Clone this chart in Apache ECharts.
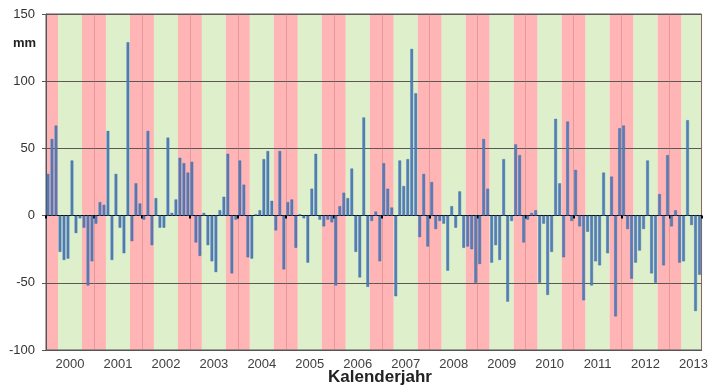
<!DOCTYPE html>
<html><head><meta charset="utf-8">
<script src="https://cdn.jsdelivr.net/npm/echarts@6/dist/echarts.min.js"></script>
<style>html,body{margin:0;padding:0;background:#fff}#c{width:711px;height:386px}</style>
</head><body><div id="c"></div>
<script>
// monthly values (mm), Jan..Dec per year
const y2000 = [31, 57, 67, -27, -33, -32, 41, -13, -2, -9, -52, -34];
const y2001 = [-6, 10, 8, 63, -33, 31, -9, -28, 129, -19, 24, 9];
const y2002 = [-3, 63, -22, 13, -9, -9, 58, 2, 12, 43, 39, 32];
const y2003 = [40, -20, -30, 2, -22, -34, -42, 4, 14, 46, -43, -3];
const y2004 = [41, 23, -31, -32, 1, 4, 42, 48, 11, -11, 48, -40];
const y2005 = [10, 12, -24, 1, -2, -35, 20, 46, -3, -8, -3, -5];
const y2006 = [-52, 7, 17, 13, 35, -27, -46, 73, -53, -4, 3, -34];
const y2007 = [39, 20, 6, -60, 41, 22, 42, 124, 91, -16, 31, -23];
const y2008 = [25, -10, -4, -6, -41, 7, -9, 18, -24, -23, -25, -50];
const y2009 = [-36, 57, 20, -35, -22, -33, 42, -64, -4, 53, 45, -20];
const y2010 = [-3, 2, 4, -50, -6, -59, -27, 72, 24, -31, 70, -4];
const y2011 = [34, -8, -63, -12, -52, -34, -37, 32, -28, 29, -75, 65];
const y2012 = [67, -10, -47, -35, -26, -10, 41, -43, -50, 16, -37, 45];
const y2013 = [-8, 4, -35, -34, 71, -7, -71, -44];

const yearLabels = ['2000','2001','2002','2003','2004','2005','2006','2007','2008','2009','2010','2011','2012','2013'];
const yTicks = [-100, -50, 0, 50, 100, 150];
const yUnit = 'mm';
const xTitle = 'Kalenderjahr';

const yearData = [y2000,y2001,y2002,y2003,y2004,y2005,y2006,y2007,y2008,y2009,y2010,y2011,y2012,y2013];
const values = [];
const months = [];
yearData.forEach((arr, k) => arr.forEach((v, m) => { values.push(v); months.push(yearLabels[k] + '-' + (m + 1)); }));
const N = values.length;

// background bands: winter half (Oct-Mar) red, summer half (Apr-Sep) green
const bands = [];
for (let k = 0; k <= yearLabels.length; k++) {
  const a = Math.max(0, 12 * k - 3), b = Math.min(N, 12 * k + 3);
  if (a < b) bands.push([{xAxis: a, itemStyle: {color: '#FFB5B5'}}, {xAxis: b}]);
  const g0 = 12 * k + 3, g1 = Math.min(N, 12 * k + 9);
  if (g0 < g1) bands.push([{xAxis: g0, itemStyle: {color: '#DDEFCB'}}, {xAxis: g1}]);
}

const chart = echarts.init(document.getElementById('c'), null, {renderer: 'canvas'});
const font = 'Arial, "Liberation Sans", sans-serif';
chart.setOption({
  animation: false,
  backgroundColor: '#ffffff',
  grid: {left: 46, right: 5, top: 14, bottom: 36, show: true, borderColor: '#555555', borderWidth: 1, z: 0},
  xAxis: [
    {
      type: 'category', data: months, boundaryGap: true,
      axisLine: {onZero: true, lineStyle: {color: '#000000', width: 1}},
      axisTick: {show: true, length: 3, interval: (i) => i % 12 === 0, lineStyle: {color: '#000000', width: 2}},
      axisLabel: {show: false},
      splitLine: {show: true, interval: (i) => i % 12 === 0 && i > 0, lineStyle: {color: 'rgba(200,120,120,0.45)', width: 1}}
    },
    {
      type: 'value', position: 'bottom', min: 0, max: N, interval: 6,
      axisLine: {onZero: false, show: true, lineStyle: {color: '#555555'}},
      axisTick: {show: false}, splitLine: {show: false},
      axisLabel: {
        margin: 8, fontSize: 13, color: '#404040', fontFamily: font,
        formatter: (v) => (v % 12 === 6 ? yearLabels[(v - 6) / 12] : '')
      }
    }
  ],
  yAxis: {
    type: 'value', min: yTicks[0], max: yTicks[yTicks.length - 1], interval: 50,
    axisLine: {show: true, lineStyle: {color: '#555555'}},
    axisTick: {show: true, length: 4, lineStyle: {color: '#555555'}},
    axisLabel: {margin: 11, fontSize: 13, color: '#333333', fontFamily: font},
    splitLine: {show: true, lineStyle: {color: '#5a5a52', width: 1}}
  },
  series: [
    {
      type: 'line', xAxisIndex: 1, data: [[0, 0]], showSymbol: false, lineStyle: {width: 0}, silent: true,
      markArea: {silent: true, z: -1, data: bands}
    },
    {
      type: 'bar', xAxisIndex: 0, data: values, barWidth: '68%',
      itemStyle: {color: '#4F7FBE', borderColor: '#41689C', borderWidth: 0.4}
    }
  ],
  graphic: [
    {type: 'text', left: 13, top: 37, style: {text: yUnit, font: 'bold 13px ' + font, fill: '#222'}},
    {type: 'text', left: 328, top: 369, style: {text: xTitle, font: 'bold 17px ' + font, fill: '#222'}}
  ]
});
</script></body></html>
